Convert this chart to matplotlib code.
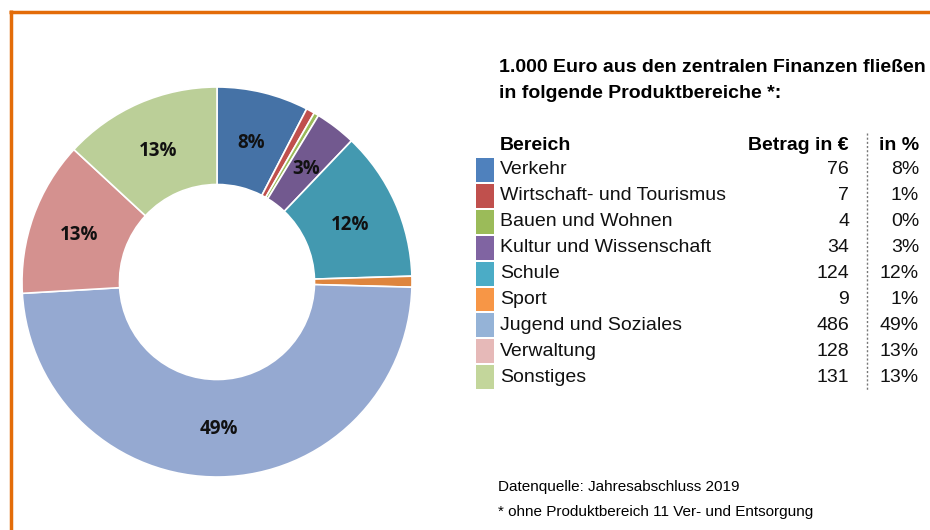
import numpy as np
from matplotlib import pyplot as plt
from matplotlib.lines import Line2D
from matplotlib.patches import Rectangle

bereiche = ['Verkehr', 'Wirtschaft- und Tourismus', 'Bauen und Wohnen',
            'Kultur und Wissenschaft', 'Schule', 'Sport', 'Jugend und Soziales',
            'Verwaltung', 'Sonstiges']
betrag = [76, 7, 4, 34, 124, 9, 486, 128, 131]
pie_colors = ['#4572A6', '#C0504D', '#9BBB59', '#72598F', '#4399B0',
              '#DE853E', '#95A9D1', '#D4918F', '#BBCF98']
legend_colors = ['#4F81BD', '#C0504D', '#9BBB59', '#8064A2', '#4BACC6',
                 '#F79646', '#95B3D7', '#E6B9B8', '#C3D69B']

W, H = 930, 530
fig = plt.figure(figsize=(W / 100, H / 100), dpi=100)


def px(x, y):
    # Pixelkoordinaten (oben links) -> Figure-Anteile
    return x / W, 1 - y / H


total = sum(betrag)
prozent = [round(v / total * 100) for v in betrag]

# Donut
cx, cy, r = 217, 282, 195
ax = fig.add_axes([(cx - r) / W, (H - cy - r) / H, 2 * r / W, 2 * r / H])
wedges, _ = ax.pie(betrag, colors=pie_colors, startangle=90, counterclock=False,
                   radius=1, wedgeprops=dict(width=0.5, edgecolor='white', linewidth=1.2))
ax.set_xlim(-1, 1)
ax.set_ylim(-1, 1)
ax.set_aspect('equal')
ax.axis('off')

# Prozentlabels im Ring
winkel = 90
for v, p in zip(betrag, prozent):
    theta = winkel - v / total * 360 / 2
    winkel -= v / total * 360
    if p < 2:
        continue
    t = np.deg2rad(theta)
    ax.text(0.75 * np.cos(t), 0.745 * np.sin(t) - 0.01, f'{p}%', ha='center', va='center',
            fontsize=13.5, fontweight='bold', family='Open Sans', color='#111111')

# Titel
sans = 'Liberation Sans'
fig.text(*px(499, 68), '1.000 Euro aus den zentralen Finanzen fließen', fontsize=14,
         fontweight='bold', family=sans, va='center', ha='left')
fig.text(*px(499, 93), 'in folgende Produktbereiche *:', fontsize=14,
         fontweight='bold', family=sans, va='center', ha='left')

# Tabelle
fs = 14
fig.text(*px(500, 145), 'Bereich', fontsize=fs, fontweight='bold', family=sans, va='center')
fig.text(*px(849, 145), 'Betrag in €', fontsize=fs, fontweight='bold', family=sans,
         va='center', ha='right')
fig.text(*px(919, 145), 'in %', fontsize=fs, fontweight='bold', family=sans,
         va='center', ha='right')

row_h = 25.9
for i, (name, v, p) in enumerate(zip(bereiche, betrag, prozent)):
    y = 170 + i * row_h
    x0, y0 = px(476, y + row_h / 2 - 1)
    fig.patches.append(Rectangle((x0, y0), 18 / W, (row_h - 2) / H, transform=fig.transFigure,
                                 facecolor=legend_colors[i], edgecolor='none'))
    fig.text(*px(500, y), name, fontsize=fs, family=sans, va='center', color='#111111')
    fig.text(*px(849, y), str(v), fontsize=fs, family=sans, va='center', ha='right',
             color='#111111')
    fig.text(*px(919, y), f'{p}%', fontsize=fs, family=sans, va='center', ha='right',
             color='#111111')

fig.lines.append(Line2D([867 / W, 867 / W], [1 - 133 / H, 1 - 390 / H], transform=fig.transFigure,
                        color='#777777', linestyle=(0, (1.5, 1.5)), linewidth=1))

# Fußnoten
fig.text(*px(498, 487), 'Datenquelle: Jahresabschluss 2019', fontsize=11,
         family=sans, va='center')
fig.text(*px(498, 512), '* ohne Produktbereich 11 Ver- und Entsorgung', fontsize=11,
         family=sans, va='center')

# oranger Rahmen oben und links
orange = '#E36C09'
fig.lines.append(Line2D([9 / W, 1], [1 - 11.5 / H, 1 - 11.5 / H], transform=fig.transFigure,
                        color=orange, linewidth=2.5, solid_capstyle='butt'))
fig.lines.append(Line2D([10.5 / W, 10.5 / W], [0, 1 - 10 / H], transform=fig.transFigure,
                        color=orange, linewidth=2.5, solid_capstyle='butt'))

fig.savefig('out.png', dpi=100, facecolor='white')
